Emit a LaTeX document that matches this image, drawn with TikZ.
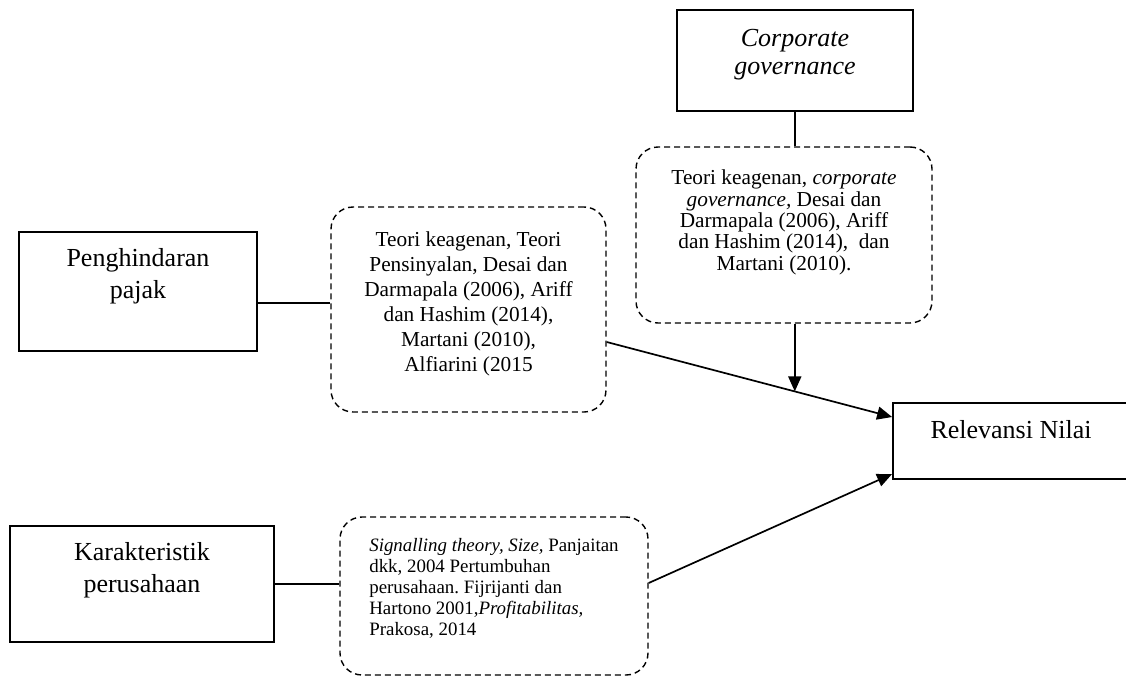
\documentclass[tikz,border=0pt]{standalone}
\usepackage{fontspec}
\setmainfont{Liberation Serif}
\usetikzlibrary{arrows.meta,calc}
\tikzstyle{var}=[draw, line width=1.8pt, inner sep=0pt, font=\fontsize{26}{32}\selectfont]
\tikzstyle{ref}=[draw, line width=1.4pt, dash pattern=on 6pt off 4pt, rounded corners=22pt, inner sep=0pt]
\tikzstyle{link}=[draw, line width=1.7pt]
\tikzstyle{line}=[draw, line width=1.7pt, -{Triangle[length=15pt,width=13pt]}]
\newcommand{\lift}[3][c]{\raisebox{#2}[\height][\depth]{\begin{tabular}{@{}#1@{}}#3\end{tabular}}}
\frenchspacing

\begin{document}
\begin{tikzpicture}[x=1pt, y=-1pt]
  \useasboundingbox (0,0) rectangle (1126,677);

  % variables
  \node[var, minimum width=236pt, minimum height=101pt, font=\fontsize{26}{28}\selectfont] (cg) at (795,60.5)
    {\lift{6pt}{\textit{Corporate}\\ \textit{governance}}};
  \node[var, minimum width=238pt, minimum height=119pt] (ph) at (138,291.5)
    {\lift{15pt}{Penghindaran\\ pajak}};
  \node[var, minimum width=264pt, minimum height=116pt] (kp) at (142,584)
    {\lift{13.5pt}{Karakteristik\\ perusahaan}};
  \node[var, minimum width=236pt, minimum height=76pt] (rn) at (1011,441)
    {\lift{8.6pt}{Relevansi Nilai}};

  % theories
  \node[ref, minimum width=296pt, minimum height=176pt, font=\fontsize{21.3}{21.3}\selectfont] (cgref) at (784,235)
    {\lift{11.7pt}{Teori keagenan, \textit{corporate}\\ \textit{governance,} Desai dan\\ Darmapala (2006), Ariff\\ dan Hashim (2014),~ dan\\ Martani (2010).}};
  \node[ref, minimum width=275pt, minimum height=205pt, font=\fontsize{21.3}{25}\selectfont] (phref) at (468.5,309.5)
    {\lift{6pt}{Teori keagenan, Teori\\ Pensinyalan, Desai dan\\ Darmapala (2006), Ariff\\ dan Hashim (2014),\\ Martani (2010),\\ Alfiarini (2015}};
  \node[ref, minimum width=308pt, minimum height=158pt, font=\fontsize{18.9}{21}\selectfont] (kpref) at (494,596)
    {\lift[l]{6.5pt}{\textit{Signalling theory, Size,} Panjaitan\\ dkk, 2004 Pertumbuhan\\ perusahaan. Fijrijanti dan\\ Hartono 2001,\textit{Profitabilitas,}\\ Prakosa, 2014}};

  \coordinate (phout) at ([yshift=-32.5pt]phref.east);
  \coordinate (kpout) at ([yshift=13pt]kpref.east);
  \coordinate (rnin1) at ([yshift=24pt]rn.west);
  \coordinate (rnin2) at ([yshift=-33pt]rn.west);
  \coordinate (hit) at ($(phout)!0.659!(rnin1)$);

  % links
  \draw[link] (cg.south) -- (cg.south |- cgref.north);
  \draw[link] ([yshift=-11.5pt]ph.east) -- ([yshift=-11.5pt]ph.east -| phref.west);
  \draw[link] (kp.east) -- (kp.east -| kpref.west);

  % arrows
  \draw[line] (phout) -- (rnin1);
  \draw[line] (cgref.south -| hit) -- (hit);
  \draw[line] (kpout) -- (rnin2);
\end{tikzpicture}
\end{document}
